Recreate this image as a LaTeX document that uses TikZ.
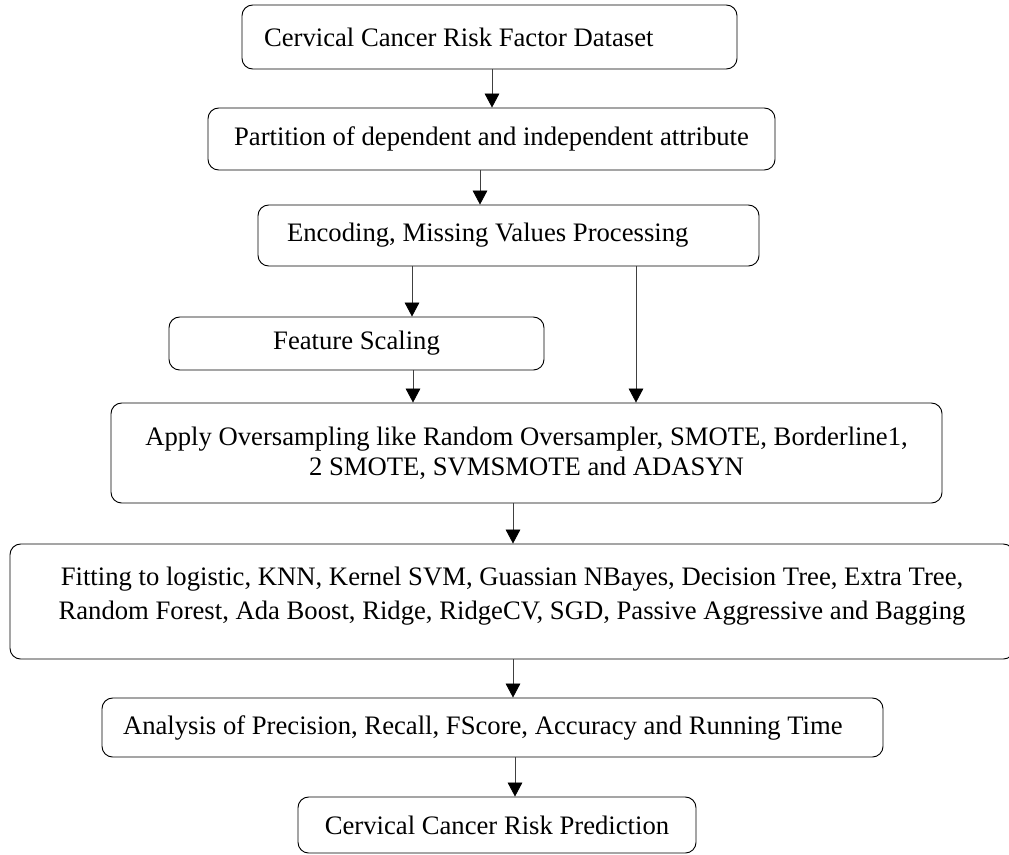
\documentclass[tikz,border=0pt]{standalone}
\usepackage{fontspec}
\setmainfont{Liberation Serif}
\usetikzlibrary{arrows.meta}

\tikzset{
    box/.style={draw, rounded corners=8pt, line width=0.7pt, inner sep=0pt,
        align=center, font=\fontsize{20}{22.5}\selectfont},
    leftbox/.style={box, align=flush left},
    flow/.style={draw=black!75, line width=0.6pt,
        -{Triangle[black,width=11pt,length=10.5pt]}}
}

\begin{document}
\begin{tikzpicture}[x=0.75pt,y=-0.75pt]
    \useasboundingbox (0,0) rectangle (1009,854);

    \begin{scope}[every node/.style={box}]
        \node[leftbox, text width=338.25pt, inner xsep=16.5pt, minimum height=48pt]
            (data) at (489.5,37) {Cervical Cancer Risk Factor Dataset};
        \node[minimum width=425.25pt, minimum height=46.5pt]
            (part) at (491.5,139) {Partition of dependent and independent attribute};
        \node[leftbox, text width=332.25pt, inner xsep=21.75pt, minimum height=45.75pt]
            (enc) at (508.5,235.5) {Encoding, Missing Values Processing};
        \node[minimum width=281.25pt, minimum height=39.75pt]
            (scal) at (356.5,343.5) {Feature Scaling};
        \node[minimum width=623.25pt, minimum height=75pt]
            (over) at (526.5,453) {Apply Oversampling like Random Oversampler, SMOTE, Borderline1,\\
            2 SMOTE, SVMSMOTE and ADASYN};
        \node[minimum width=753pt, minimum height=86.25pt, font=\fontsize{20}{25.5}\selectfont]
            (fit) at (512,601.5) {Fitting to logistic, KNN, Kernel SVM, Guassian NBayes, Decision Tree, Extra Tree,\\
            Random Forest, Ada Boost, Ridge, RidgeCV, SGD, Passive Aggressive and Bagging\\[-13.5pt]};
        \node[leftbox, text width=554.25pt, inner xsep=15.75pt, minimum height=44.25pt]
            (eval) at (492.5,727.5) {Analysis of Precision, Recall, FScore, Accuracy and Running Time};
        \node[minimum width=298.5pt, minimum height=42pt]
            (pred) at (497,825) {Cervical Cancer Risk Prediction};
    \end{scope}

    \draw[flow] (data.south -| 492,0) -- (part.north -| 492,0);
    \draw[flow] (part.south -| 480,0) -- (enc.north -| 480,0);
    \draw[flow] (enc.south -| 412,0) -- (scal.north -| 412,0);
    \draw[flow] (enc.south -| 636,0) -- (over.north -| 636,0);
    \draw[flow] (scal.south -| 413,0) -- (over.north -| 413,0);
    \draw[flow] (over.south -| 513,0) -- (fit.north -| 513,0);
    \draw[flow] (fit.south -| 513,0) -- (eval.north -| 513,0);
    \draw[flow] (eval.south -| 515,0) -- (pred.north -| 515,0);
\end{tikzpicture}
\end{document}
